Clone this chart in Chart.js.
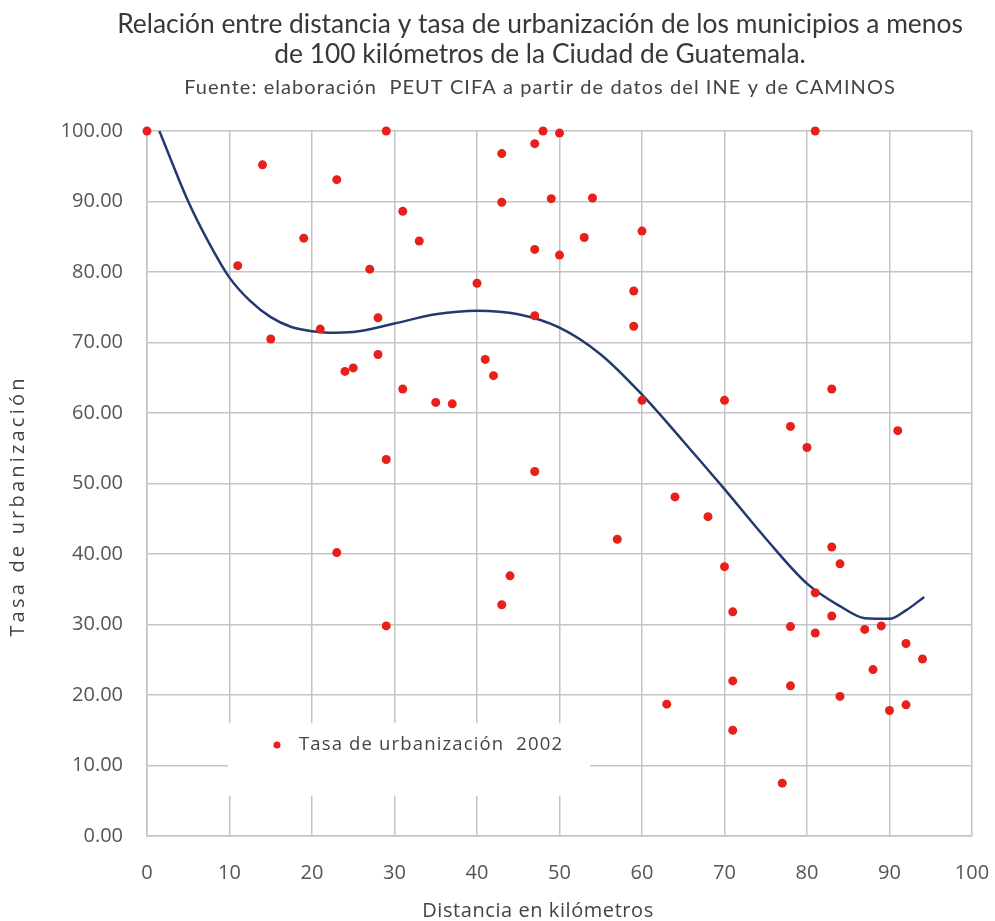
<!DOCTYPE html>
<html>
<head>
<meta charset="utf-8">
<script src="https://cdn.jsdelivr.net/npm/chart.js@4.4.1/dist/chart.umd.min.js"></script>
<style>
  html, body { margin: 0; padding: 0; background: #fff; }
  #wrap { width: 995px; height: 921px; }
</style>
</head>
<body>
<div id="wrap"><canvas id="grafica"></canvas></div>
<script>
// distancia (km) y tasa de urbanizacion 2002 de cada municipio
const distancias = [0, 14, 23, 29, 43, 47, 48, 50, 43, 49, 31, 33, 19, 47, 50, 11, 27, 40, 28, 47,
  21, 15, 28, 41, 42, 24, 25, 31, 35, 37, 29, 47, 54, 53, 60, 59, 59, 60, 70, 81,
  83, 78, 80, 91, 23, 29, 44, 43, 64, 68, 57, 70, 71, 83, 84, 81, 83, 78, 81, 87,
  89, 92, 94, 88, 71, 78, 84, 63, 90, 92, 71, 77];
const tasas = [100, 95.2, 93.1, 100, 96.8, 98.2, 100, 99.7, 89.9, 90.4, 88.6, 84.4, 84.8, 83.2, 82.4, 80.9, 80.4, 78.4, 73.5, 73.8,
  71.9, 70.5, 68.3, 67.6, 65.3, 65.9, 66.4, 63.4, 61.5, 61.3, 53.4, 51.7, 90.5, 84.9, 85.8, 77.3, 72.3, 61.8, 61.8, 100,
  63.4, 58.1, 55.1, 57.5, 40.2, 29.8, 36.9, 32.8, 48.1, 45.3, 42.1, 38.2, 31.8, 41.0, 38.6, 34.5, 31.2, 29.7, 28.8, 29.3,
  29.8, 27.3, 25.1, 23.6, 22.0, 21.3, 19.8, 18.7, 17.8, 18.6, 15.0, 7.5];

// linea de tendencia
const tendenciaX = [1.5, 5, 7.3, 10, 12.5, 15, 17.5, 20, 22, 25, 30, 35, 40, 45, 50, 55, 60, 65, 70, 75, 80, 84, 87, 90, 92, 94.2];
const tendenciaY = [100, 90.0, 84.6, 79.2, 75.9, 73.6, 72.2, 71.6, 71.4, 71.5, 72.7, 74.0, 74.5, 74.0, 72.1, 68.3, 62.6, 56.0, 49.2, 42.2, 35.8, 32.6, 30.9, 30.8, 32.0, 33.9];

const ticksX = [0, 10, 20, 30, 40, 50, 60, 70, 80, 90, 100];
const ticksY = [0, 10, 20, 30, 40, 50, 60, 70, 80, 90, 100];

const titulo = ['Relación entre distancia y tasa de urbanización de los municipios a menos',
  'de 100 kilómetros de la Ciudad de Guatemala.'];
const fuente = 'Fuente: elaboración  PEUT CIFA a partir de datos del INE y de CAMINOS';
const tituloX = 'Distancia en kilómetros';
const tituloY = 'Tasa de urbanización';
const leyenda = 'Tasa de urbanización  2002';

const ROJO = '#e8201c';
const AZUL = '#24396f';
const GRIS = '#c4c4c4';
const TEXTO = '#444444';

const puntos = distancias.map((d, i) => ({ x: d, y: tasas[i] }));
const tendencia = tendenciaX.map((d, i) => ({ x: d, y: tendenciaY[i] }));

// tamaño de letra para que el texto ocupe un ancho dado (con tope)
const tamano = (ctx, str, familia, maximo, ancho) => {
  ctx.font = '10px ' + familia;
  const w = ctx.measureText(str).width;
  return Math.min(maximo, 10 * ancho / w);
};

// escribe un texto; si sobra ancho se reparte como espaciado entre letras
const escribir = (ctx, str, x, y, familia, size, ancho) => {
  ctx.font = size + 'px ' + familia;
  ctx.letterSpacing = '0px';
  if (ancho) {
    const w = ctx.measureText(str).width;
    if (ancho > w) ctx.letterSpacing = ((ancho - w) / (str.length - 1)) + 'px';
  }
  ctx.fillText(str, x, y);
  ctx.letterSpacing = '0px';
};

const textos = {
  id: 'textos',
  beforeDatasetsDraw(chart) {
    const { ctx } = chart;
    const x = chart.scales.x;
    const y = chart.scales.y;
    // caja de la leyenda dentro del area del grafico
    const izq = x.getPixelForValue(10) - 1.5;
    const der = x.getPixelForValue(53.7);
    const arr = y.getPixelForValue(16.0);
    const aba = y.getPixelForValue(5.7);
    ctx.save();
    ctx.fillStyle = '#ffffff';
    ctx.fillRect(izq, arr, der - izq, aba - arr);
    const cy = y.getPixelForValue(12.9);
    ctx.fillStyle = ROJO;
    ctx.beginPath();
    ctx.arc(izq + 49, cy, 3.5, 0, Math.PI * 2);
    ctx.fill();
    ctx.fillStyle = TEXTO;
    ctx.textBaseline = 'middle';
    ctx.textAlign = 'left';
    const fam = '"Open Sans"';
    escribir(ctx, leyenda, izq + 71, cy, fam, tamano(ctx, leyenda, fam, 18.5, 263), 263);
    ctx.restore();
  },
  afterDraw(chart) {
    const { ctx } = chart;
    ctx.save();
    ctx.fillStyle = '#383838';
    ctx.textAlign = 'center';
    ctx.textBaseline = 'middle';
    const t = tamano(ctx, titulo[0], 'Lato', 30, 846);
    escribir(ctx, titulo[0], 540, 24, 'Lato', t);
    escribir(ctx, titulo[1], 540, 54, 'Lato', t);
    ctx.fillStyle = TEXTO;
    escribir(ctx, fuente, 540, 88, 'Lato', tamano(ctx, fuente, 'Lato', 20, 711), 711);
    const fam = '"Open Sans"';
    escribir(ctx, tituloX, 538, 911, fam, tamano(ctx, tituloX, fam, 20, 231), 231);
    ctx.translate(18, 506);
    ctx.rotate(-Math.PI / 2);
    escribir(ctx, tituloY, 0, 0, fam, tamano(ctx, tituloY, fam, 20, 258), 258);
    ctx.restore();
  }
};

new Chart(document.getElementById('grafica'), {
  type: 'scatter',
  data: {
    datasets: [
      {
        label: leyenda,
        data: puntos,
        backgroundColor: ROJO,
        borderColor: ROJO,
        pointRadius: 4.5,
        pointHoverRadius: 4.5,
        borderWidth: 0,
        clip: false,
        order: 1
      },
      {
        label: 'Tendencia',
        data: tendencia,
        showLine: true,
        borderColor: AZUL,
        borderWidth: 2.5,
        pointRadius: 0,
        cubicInterpolationMode: 'monotone',
        fill: false,
        order: 2
      }
    ]
  },
  options: {
    responsive: true,
    maintainAspectRatio: false,
    animation: false,
    layout: { padding: { top: 131, right: 23, left: 0, bottom: 0 } },
    plugins: {
      legend: { display: false },
      tooltip: { enabled: false }
    },
    scales: {
      x: {
        type: 'linear',
        min: 0,
        max: 100,
        afterFit: s => { s.height = 85; },
        afterBuildTicks: s => { s.ticks = ticksX.map(v => ({ value: v })); },
        grid: { color: GRIS, lineWidth: 1.5, drawTicks: true, tickLength: 22, tickColor: 'rgba(0,0,0,0)' },
        border: { color: GRIS, width: 1.5 },
        ticks: { padding: 3, maxRotation: 0, color: '#555555', font: { family: 'Open Sans', size: 20 } }
      },
      y: {
        type: 'linear',
        min: 0,
        max: 100,
        afterFit: s => { s.width = 147; },
        afterBuildTicks: s => { s.ticks = ticksY.map(v => ({ value: v })); },
        grid: { color: GRIS, lineWidth: 1.5, drawTicks: false },
        border: { color: GRIS, width: 1.5 },
        ticks: {
          padding: 24,
          color: '#555555',
          font: { family: 'Open Sans', size: 20 },
          callback: v => v.toFixed(2)
        }
      }
    }
  },
  plugins: [textos]
});
</script>
</body>
</html>
